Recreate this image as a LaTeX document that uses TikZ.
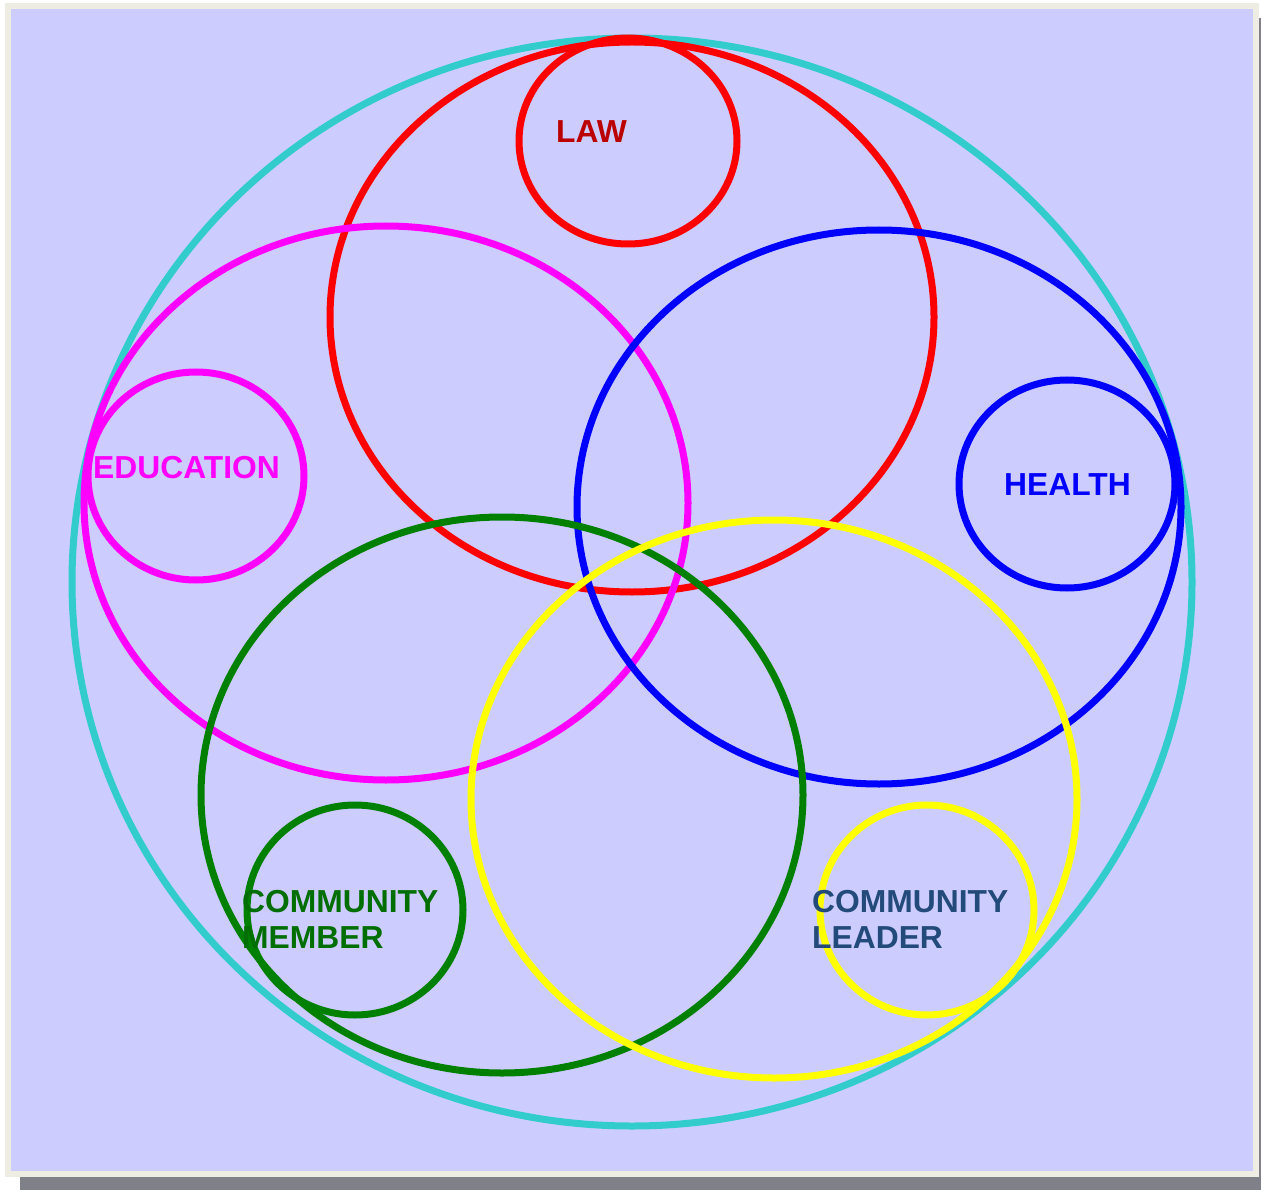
\documentclass[tikz,border=0pt]{standalone}
\usepackage{fontspec}
\setmainfont{Liberation Sans}
\begin{document}
\definecolor{framecol}{HTML}{EEEDE3}
\definecolor{panel}{HTML}{CCCCFF}
\definecolor{shadowcol}{HTML}{7F8088}
\definecolor{cyanring}{HTML}{33CCCC}
\definecolor{ringred}{HTML}{FF0000}
\definecolor{ringpink}{HTML}{FF00FF}
\definecolor{ringblue}{HTML}{0000FF}
\definecolor{ringgreen}{HTML}{008000}
\definecolor{ringyellow}{HTML}{FFFF00}
\definecolor{lawtext}{HTML}{BB0000}
\definecolor{membertext}{HTML}{006E00}
\definecolor{leadertext}{HTML}{224A7A}
\begin{tikzpicture}[x=1pt,y=-1pt,
  ring/.style={line width=7pt},
  label/.style={anchor=base west,inner sep=0pt,font=\bfseries\fontsize{31.8}{36}\selectfont,align=left}]
\useasboundingbox (0,0) rectangle (1261,1190);
% page: drop shadow, frame and panel
\begin{scope}
\clip (0,0) rectangle (1261,1190);
\fill[shadowcol] (20,18) rectangle (1274,1192);
\end{scope}
\fill[framecol] (5,3) rectangle (1259,1177);
\fill[panel] (11,9) rectangle (1253,1171);
% enclosing ring
\draw[ring,cyanring] (632,582) ellipse [x radius=560,y radius=544];
% law
\draw[ring,ringred] (632,317) ellipse [x radius=302,y radius=275];
\draw[ring,ringred] (628,141) ellipse [x radius=109,y radius=103];
% education
\draw[ring,ringpink] (386,503) ellipse [x radius=302,y radius=277];
\draw[ring,ringpink] (196,476) ellipse [x radius=108,y radius=104];
% health
\draw[ring,ringblue] (879,507) ellipse [x radius=302,y radius=277];
\draw[ring,ringblue] (1067,484) ellipse [x radius=108,y radius=104];
% community member
\draw[ring,ringgreen] (502,795) ellipse [x radius=301,y radius=278];
\draw[ring,ringgreen] (355,910) ellipse [x radius=108,y radius=105];
% community leader
\draw[ring,ringyellow] (774,799) ellipse [x radius=303,y radius=279];
\draw[ring,ringyellow] (927,910) ellipse [x radius=107,y radius=105];
% labels
\node[label,text=lawtext] (law) at (556,143) {LAW};
\node[label,text=ringpink] (edu) at (93,478) {EDUCATION};
\node[label,text=ringblue] (health) at (1004,495) {HEALTH};
\node[label,text=membertext] (member) at (242,948) {COMMUNITY\\MEMBER};
\node[label,text=leadertext] (leader) at (812,948) {COMMUNITY\\LEADER};
\end{tikzpicture}
\end{document}
